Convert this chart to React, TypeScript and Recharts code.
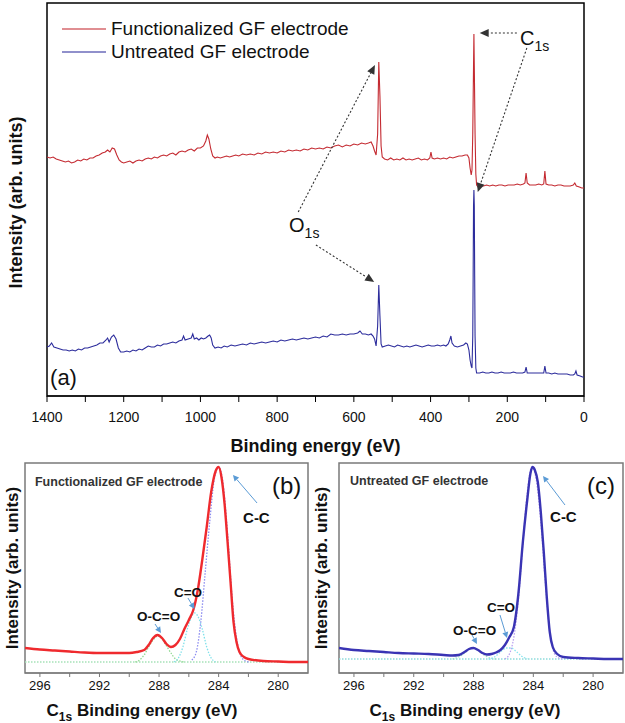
import React from 'react';
import { LineChart, Line, XAxis, YAxis, ReferenceArea, ReferenceLine, ReferenceDot, Legend } from 'recharts';

const FONT = '"Liberation Sans", Arial, Helvetica, sans-serif';

// ---------- Panel (a): survey spectra ----------
const surveyTicks = [1400, 1300, 1200, 1100, 1000, 900, 800, 700, 600, 500, 400, 300, 200, 100, 0];
const surveyLabeledTicks = [1400, 1200, 1000, 800, 600, 400, 200, 0];
const surveySeriesNames = ['Functionalized GF electrode', 'Untreated GF electrode'];

const functionalizedSurvey = [
  [1400, 239], [1392, 238], [1384, 239], [1376, 237], [1368, 236], [1360, 235], [1352, 234], [1344, 235],
  [1336, 233], [1328, 234], [1320, 236], [1312, 235], [1304, 237], [1296, 236], [1288, 238], [1280, 238],
  [1272, 240], [1264, 241], [1256, 243], [1248, 244], [1242, 246], [1236, 244], [1230, 248], [1224, 247],
  [1218, 241], [1212, 236], [1206, 234], [1200, 233], [1192, 234], [1184, 235], [1176, 233], [1168, 235],
  [1160, 236], [1152, 235], [1144, 237], [1136, 238], [1128, 237], [1120, 239], [1112, 238], [1104, 240],
  [1096, 241], [1088, 240], [1080, 242], [1072, 243], [1064, 241], [1056, 244], [1048, 245], [1040, 244],
  [1032, 246], [1024, 247], [1016, 245], [1008, 248], [1000, 248], [992, 250], [986, 255], [982, 261],
  [978, 257], [973, 247], [968, 240], [962, 238], [956, 239], [948, 238], [940, 239], [932, 240], [924, 239],
  [916, 240], [908, 241], [900, 240], [890, 242], [880, 241], [870, 242], [860, 241], [850, 243], [840, 242],
  [830, 244], [820, 243], [810, 244], [800, 243], [790, 245], [780, 244], [770, 246], [760, 245], [750, 246],
  [740, 245], [730, 247], [720, 246], [710, 248], [700, 247], [690, 248], [680, 247], [670, 249], [660, 248],
  [650, 250], [640, 251], [630, 249], [620, 251], [610, 250], [600, 252], [590, 251], [580, 253], [570, 252],
  [562, 253], [555, 254], [550, 250], [546, 245], [542, 241], [538, 262], [535, 334], [532, 300], [529, 250],
  [526, 239], [520, 237], [512, 236], [504, 238], [496, 236], [488, 237], [480, 236], [472, 238], [464, 236],
  [456, 237], [448, 236], [440, 237], [432, 238], [424, 236], [416, 237], [408, 236], [402, 238], [399, 244],
  [396, 238], [390, 237], [382, 238], [374, 237], [366, 238], [358, 237], [350, 239], [342, 238], [334, 239],
  [326, 240], [318, 240], [310, 241], [304, 241], [300, 238], [297, 228], [294, 221], [292, 226], [290, 262],
  [288, 330], [287, 362], [286, 330], [284, 262], [282, 222], [280, 211], [276, 209], [270, 210], [262, 210],
  [254, 211], [246, 210], [238, 211], [230, 210], [222, 211], [214, 211], [206, 210], [198, 211], [190, 211],
  [182, 211], [174, 212], [166, 211], [158, 212], [154, 213], [151, 223], [148, 213], [142, 211], [134, 211],
  [126, 211], [118, 212], [110, 211], [105, 212], [102, 225], [99, 212], [92, 211], [84, 211], [76, 210],
  [68, 211], [60, 211], [52, 210], [44, 210], [36, 210], [28, 211], [24, 213], [20, 210], [12, 209], [6, 208],
  [0, 208],
];

const untreatedSurvey = [
  [1400, 49], [1394, 50], [1388, 53], [1382, 49], [1374, 48], [1366, 47], [1358, 46], [1350, 46], [1342, 45],
  [1334, 46], [1326, 45], [1318, 47], [1310, 46], [1302, 48], [1294, 48], [1286, 49], [1278, 50], [1270, 51],
  [1262, 53], [1254, 53], [1246, 56], [1242, 58], [1238, 54], [1232, 59], [1226, 61], [1220, 57], [1214, 48],
  [1208, 44], [1200, 44], [1192, 45], [1184, 44], [1176, 46], [1168, 45], [1160, 47], [1152, 46], [1144, 48],
  [1136, 50], [1128, 49], [1120, 49], [1112, 51], [1104, 50], [1096, 52], [1088, 52], [1080, 53], [1072, 54],
  [1064, 53], [1056, 55], [1048, 56], [1044, 60], [1040, 56], [1032, 57], [1024, 58], [1020, 62], [1016, 57],
  [1010, 58], [1004, 56], [998, 58], [992, 57], [986, 58], [980, 60], [976, 61], [972, 58], [968, 51], [962, 48],
  [954, 49], [946, 48], [938, 50], [930, 49], [920, 51], [910, 50], [900, 51], [890, 52], [880, 51], [870, 53],
  [860, 52], [850, 53], [840, 54], [830, 53], [820, 54], [810, 55], [800, 54], [790, 56], [780, 55], [770, 56],
  [760, 57], [750, 56], [740, 57], [730, 58], [720, 57], [710, 58], [700, 59], [690, 58], [680, 60], [670, 59],
  [660, 62], [650, 61], [640, 61], [630, 62], [620, 61], [610, 62], [600, 62], [590, 63], [584, 65], [578, 62],
  [570, 62], [562, 61], [555, 62], [550, 60], [546, 57], [542, 50], [538, 70], [535, 111], [532, 80], [529, 52],
  [526, 49], [518, 50], [510, 51], [502, 50], [494, 49], [486, 51], [478, 50], [470, 49], [462, 50], [454, 49],
  [446, 50], [438, 51], [430, 50], [422, 49], [414, 50], [406, 51], [398, 50], [390, 50], [382, 51], [374, 50],
  [366, 51], [360, 50], [354, 52], [350, 56], [347, 60], [344, 53], [338, 50], [330, 49], [322, 50], [314, 51],
  [308, 53], [304, 52], [300, 46], [297, 36], [294, 30], [292, 28], [290, 60], [289, 120], [288, 190], [287, 206],
  [286, 190], [285, 120], [284, 60], [282, 28], [280, 23], [272, 23], [264, 24], [256, 23], [248, 23], [240, 24],
  [232, 23], [224, 23], [216, 24], [208, 23], [200, 23], [192, 23], [184, 24], [176, 23], [168, 23], [160, 23],
  [154, 24], [151, 29], [148, 23], [140, 23], [132, 23], [124, 23], [116, 23], [108, 23], [105, 23], [102, 30],
  [99, 23], [92, 23], [84, 22], [76, 23], [68, 22], [60, 22], [52, 22], [44, 22], [36, 21], [28, 21], [24, 22],
  [21, 25], [18, 21], [10, 20], [4, 19], [0, 19],
];

// ---------- Panels (b) and (c): C1s high resolution ----------
const c1sTicks = [296, 294, 292, 290, 288, 286, 284, 282, 280];
const c1sLabeledTicks = [296, 292, 288, 284, 280];

const functionalizedEnvelope = [
  [297, 14], [296, 12.5], [295, 11.5], [294, 10.5], [293, 9.5], [292, 9], [291, 9], [290, 9], [289.5, 10],
  [289.0, 12], [288.7, 17], [288.4, 24], [288.1, 27], [287.8, 24], [287.5, 18], [287.2, 15], [286.9, 17],
  [286.6, 23], [286.3, 33], [286.0, 42], [285.7, 52], [285.4, 72], [285.1, 102], [284.8, 135], [284.5, 170],
  [284.2, 191], [284.0, 195], [283.8, 184], [283.6, 158], [283.4, 120], [283.2, 80], [283.0, 40], [282.8, 20],
  [282.6, 10], [282.3, 5], [282.0, 3], [281.0, 1], [280.0, 0.5], [279.0, 0], [278.0, 0],
];
const functionalizedCC = [
  [285.8, 2], [285.5, 10], [285.2, 40], [284.9, 90], [284.6, 140], [284.3, 182], [284.0, 195], [283.7, 178],
  [283.4, 128], [283.1, 65], [282.8, 24], [282.5, 6], [282.2, 1], [281.9, 0],
];
const functionalizedCO = [
  [287.0, 0], [286.7, 4], [286.4, 15], [286.1, 33], [285.8, 46], [285.6, 49], [285.4, 46], [285.1, 33],
  [284.8, 15], [284.5, 4], [284.2, 0],
];
const functionalizedOCO = [
  [289.6, 0], [289.3, 2], [289.0, 7], [288.7, 15], [288.4, 22], [288.1, 26], [287.8, 23], [287.5, 16],
  [287.2, 9], [286.9, 3], [286.6, 1], [286.3, 0],
];
const functionalizedBackground = [[297, 0], [278, 0]];

const untreatedEnvelope = [
  [297, 14], [296, 12], [295, 11], [294, 10], [293, 9], [292, 8.5], [291, 8], [290, 7], [289.4, 6.5],
  [289.0, 7], [288.6, 10], [288.3, 13], [288.0, 14], [287.7, 12], [287.4, 9], [287.1, 7.5], [286.8, 8],
  [286.5, 9.5], [286.2, 12], [285.9, 17], [285.6, 25], [285.3, 35], [285.0, 68], [284.7, 120], [284.4, 163],
  [284.2, 188], [284.05, 195], [283.9, 192], [283.7, 180], [283.5, 150], [283.3, 110], [283.1, 65], [282.9, 30],
  [282.7, 15], [282.4, 8], [282.0, 5], [281.0, 4], [280.0, 3.5], [279.0, 3], [278.0, 3],
];
const untreatedCC = [
  [285.9, 3], [285.6, 8], [285.3, 25], [285.0, 62], [284.7, 118], [284.4, 170], [284.1, 195], [283.8, 182],
  [283.5, 140], [283.2, 80], [282.9, 30], [282.6, 9], [282.3, 4], [282.0, 3],
];
const untreatedCO = [
  [287.0, 3], [286.6, 5], [286.2, 10], [285.8, 14], [285.5, 14], [285.1, 10], [284.8, 6], [284.4, 3],
];
const untreatedOCO = [
  [289.4, 3], [289.0, 5], [288.6, 9], [288.3, 13], [288.0, 14], [287.7, 12], [287.3, 7], [286.9, 4], [286.5, 3],
];
const untreatedBackground = [[297, 3], [278, 3]];

type Pt = { e: number; v: number };
const toPts = (rows: number[][]): Pt[] => rows.map(([e, v]) => ({ e, v }));

// ---------- helpers ----------
const arrowShape = (color: string, dash: string | undefined, len: number, half: number, width: number) =>
  (p: any) => {
    const { x1, y1, x2, y2 } = p;
    if (![x1, y1, x2, y2].every((v) => typeof v === 'number' && isFinite(v))) return <g />;
    const dx = x2 - x1;
    const dy = y2 - y1;
    const L = Math.hypot(dx, dy) || 1;
    const ux = dx / L;
    const uy = dy / L;
    const bx = x2 - ux * len;
    const by = y2 - uy * len;
    const pts = `${x2},${y2} ${bx - uy * half},${by + ux * half} ${bx + uy * half},${by - ux * half}`;
    return (
      <g>
        <line x1={x1} y1={y1} x2={bx} y2={by} stroke={color} strokeWidth={width} strokeDasharray={dash} />
        <polygon points={pts} fill={color} />
      </g>
    );
  };

const textShape = (content: React.ReactNode, props: any) => (p: any) => (
  <text x={p.cx} y={p.cy} fontFamily={FONT} {...props}>
    {content}
  </text>
);

const SurveyLegend = (props: any) => {
  const payload = props.payload || [];
  return (
    <div style={{ fontFamily: FONT, fontSize: 19, color: '#111' }}>
      {payload.map((p: any) => (
        <div key={p.value} style={{ display: 'flex', alignItems: 'center', height: 23 }}>
          <svg width={44} height={6} style={{ display: 'block' }}>
            <line x1={0} y1={3} x2={44} y2={3} stroke={p.color} strokeWidth={1.6} strokeOpacity={0.7} />
          </svg>
          <span style={{ marginLeft: 5, whiteSpace: 'nowrap' }}>{p.value}</span>
        </div>
      ))}
    </div>
  );
};

function SurveyPanel() {
  const red = '#c42a31';
  const blue = '#2c2c9c';
  const dotted = arrowShape('#333', '2 2', 9, 4, 1.1);
  return (
    <LineChart width={625} height={460} margin={{ top: 3, right: 41, bottom: 4, left: 0 }}>
      <XAxis
        dataKey="e"
        type="number"
        domain={[0, 1400]}
        reversed
        allowDataOverflow
        ticks={surveyTicks}
        interval={0}
        tickFormatter={(v: number) => (surveyLabeledTicks.includes(v) ? String(v) : '')}
        tick={{ fontSize: 14, fill: '#111' }}
        tickSize={6}
        tickMargin={10}
        height={60}
        stroke="#000"
        label={(lp: any) => {
          const vb = lp.viewBox || { x: 47, y: 396, width: 537, height: 60 };
          return (
            <text x={vb.x + vb.width / 2} y={vb.y + 50} dy="0.36em" textAnchor="middle" fontFamily={FONT} fontSize={18} fontWeight="bold" fill="#111">
              Binding energy (eV)
            </text>
          );
        }}
      />
      <YAxis
        type="number"
        domain={[0, 393]}
        allowDataOverflow
        tick={false}
        axisLine={false}
        tickLine={false}
        width={47}
        label={(lp: any) => {
          const vb = lp.viewBox || { x: 0, y: 3, width: 47, height: 393 };
          const cx = 16;
          const cy = vb.y + vb.height / 2 + 3;
          return (
            <text x={cx} y={cy} dy="0.36em" textAnchor="middle" transform={`rotate(-90, ${cx}, ${cy})`} fontFamily={FONT} fontSize={18} fontWeight="bold" fill="#111">
              Intensity (arb. units)
            </text>
          );
        }}
      />
      <ReferenceArea x1={1400} x2={0} y1={0} y2={393} fill="none" fillOpacity={0} stroke="#000" strokeWidth={1.5} />
      <Legend layout="horizontal" verticalAlign="middle" align="center" content={SurveyLegend} wrapperStyle={{ left: 62, top: 17, width: 'auto' }} />
      <Line data={toPts(functionalizedSurvey)} dataKey="v" name={surveySeriesNames[0]} stroke={red} strokeWidth={1.1} dot={false} isAnimationActive={false} type="linear" />
      <Line data={toPts(untreatedSurvey)} dataKey="v" name={surveySeriesNames[1]} stroke={blue} strokeWidth={1.1} dot={false} isAnimationActive={false} type="linear" />
      <ReferenceLine segment={[{ x: 745, y: 184 }, { x: 545, y: 331 }]} shape={dotted} />
      <ReferenceLine segment={[{ x: 699, y: 151 }, { x: 547, y: 114 }]} shape={dotted} />
      <ReferenceLine segment={[{ x: 175, y: 363 }, { x: 272, y: 363 }]} shape={dotted} />
      <ReferenceLine segment={[{ x: 149, y: 348 }, { x: 277, y: 204 }]} shape={dotted} />
      <ReferenceDot x={769} y={164} r={0} shape={textShape(
        [<tspan key="m">O</tspan>, <tspan key="s" fontSize={14} dy={6}>1s</tspan>],
        { fontSize: 20, fill: '#111' },
      )} />
      <ReferenceDot x={167} y={351} r={0} shape={textShape(
        [<tspan key="m">C</tspan>, <tspan key="s" fontSize={14} dy={6}>1s</tspan>],
        { fontSize: 20, fill: '#111' },
      )} />
      <ReferenceDot x={1392} y={18} r={0} shape={textShape('(a)', { fontSize: 22, fill: '#111', dy: '0.33em' })} />
    </LineChart>
  );
}

type Note = { x: number; y: number };
type PanelProps = {
  yAxisWidth: number;
  rightMargin: number;
  envelope: number[][];
  envColor: string;
  comps: { rows: number[][]; color: string }[];
  background: number[][];
  bgColor: string;
  title: string;
  tag: string;
  labelX: number;
  yLabelX: number;
  titlePos: Note;
  tagPos: Note;
  cc: Note; ccFrom: Note; ccTo: Note;
  co: Note; coFrom: Note; coTo: Note;
  oco: Note; ocoFrom: Note; ocoTo: Note;
};

function C1sPanel(props: PanelProps) {
  const blueArrow = arrowShape('#5b9bd5', undefined, 6, 3, 1);
  const noteStyle = { fontSize: 13.5, fontWeight: 'bold', fill: '#111', dy: '0.36em' };
  return (
    <LineChart width={315} height={268} margin={{ top: 8, right: props.rightMargin, bottom: 5, left: 0 }}>
      <XAxis
        dataKey="e"
        type="number"
        domain={[278, 297]}
        reversed
        allowDataOverflow
        ticks={c1sTicks}
        interval={0}
        tickFormatter={(v: number) => (c1sLabeledTicks.includes(v) ? String(v) : '')}
        tick={{ fontSize: 13, fill: '#111' }}
        tickSize={4}
        tickMargin={4}
        height={45}
        stroke="#777"
        label={(lp: any) => {
          const vb = lp.viewBox || { x: 0, y: 218, width: 0, height: 45 };
          return (
            <text x={props.labelX} y={vb.y + 37} dy="0.36em" textAnchor="middle" fontFamily={FONT} fontSize={17} fontWeight="bold" fill="#111">
              C<tspan fontSize={12} dy={5}>1s</tspan><tspan dy={-5}> Binding energy (eV)</tspan>
            </text>
          );
        }}
      />
      <YAxis
        type="number"
        domain={[-11, 199]}
        allowDataOverflow
        tick={false}
        axisLine={false}
        tickLine={false}
        width={props.yAxisWidth}
        label={(lp: any) => {
          const vb = lp.viewBox || { x: 0, y: 8, width: 25, height: 210 };
          const cx = props.yLabelX;
          const cy = vb.y + vb.height / 2;
          return (
            <text x={cx} y={cy} dy="0.36em" textAnchor="middle" transform={`rotate(-90, ${cx}, ${cy})`} fontFamily={FONT} fontSize={17} fontWeight="bold" fill="#111">
              Intensity (arb. units)
            </text>
          );
        }}
      />
      <ReferenceArea x1={297} x2={278} y1={-11} y2={199} fill="none" fillOpacity={0} stroke="#7a7a7a" strokeWidth={1.5} />
      <Line data={toPts(props.background)} dataKey="v" stroke={props.bgColor} strokeWidth={1.3} strokeDasharray="1.5 1.5" dot={false} isAnimationActive={false} type="linear" />
      {props.comps.map((c, i) => (
        <Line key={i} data={toPts(c.rows)} dataKey="v" stroke={c.color} strokeWidth={1.3} strokeDasharray="1.5 1.5" dot={false} isAnimationActive={false} type="monotone" />
      ))}
      <Line data={toPts(props.envelope)} dataKey="v" stroke={props.envColor} strokeWidth={2.4} dot={false} isAnimationActive={false} type="monotone" />
      <ReferenceDot x={props.titlePos.x} y={props.titlePos.y} r={0} shape={textShape(props.title, { fontSize: 12.5, fontWeight: 'bold', fill: '#333', dy: '0.36em' })} />
      <ReferenceDot x={props.tagPos.x} y={props.tagPos.y} r={0} shape={textShape(props.tag, { fontSize: 24, fill: '#111', dy: '0.33em' })} />
      <ReferenceDot x={props.cc.x} y={props.cc.y} r={0} shape={textShape('C-C', { ...noteStyle, fontSize: 15 })} />
      <ReferenceDot x={props.co.x} y={props.co.y} r={0} shape={textShape('C=O', noteStyle)} />
      <ReferenceDot x={props.oco.x} y={props.oco.y} r={0} shape={textShape('O-C=O', noteStyle)} />
      <ReferenceLine segment={[props.ccFrom, props.ccTo]} shape={blueArrow} />
      <ReferenceLine segment={[props.coFrom, props.coTo]} shape={blueArrow} />
      <ReferenceLine segment={[props.ocoFrom, props.ocoTo]} shape={blueArrow} />
    </LineChart>
  );
}

export default function App() {
  return (
    <div style={{ position: 'absolute', left: 0, top: 0, width: 625, height: 723, background: '#fff', fontFamily: FONT }}>
      <div style={{ position: 'absolute', left: 0, top: 0 }}>
        <SurveyPanel />
      </div>
      <div style={{ position: 'absolute', left: 0, top: 455 }}>
        <C1sPanel
          yAxisWidth={25}
          rightMargin={7}
          envelope={functionalizedEnvelope}
          envColor="#ef2a2e"
          comps={[
            { rows: functionalizedOCO, color: '#8fd88f' },
            { rows: functionalizedCO, color: '#7fe0ea' },
            { rows: functionalizedCC, color: '#8c8cf0' },
          ]}
          background={functionalizedBackground}
          bgColor="#a6e2b8"
          title="Functionalized GF electrode"
          tag="(b)"
          labelX={142}
          yLabelX={12}
          titlePos={{ x: 296.33, y: 181 }}
          tagPos={{ x: 280.42, y: 176 }}
          cc={{ x: 282.36, y: 144 }} ccFrom={{ x: 281.42, y: 159 }} ccTo={{ x: 283.04, y: 187 }}
          co={{ x: 287.0, y: 70 }} coFrom={{ x: 286.06, y: 64 }} coTo={{ x: 285.62, y: 53 }}
          oco={{ x: 289.48, y: 46 }} ocoFrom={{ x: 288.27, y: 38 }} ocoTo={{ x: 287.87, y: 29 }}
        />
      </div>
      <div style={{ position: 'absolute', left: 310, top: 455 }}>
        <C1sPanel
          yAxisWidth={29}
          rightMargin={2}
          envelope={untreatedEnvelope}
          envColor="#3a34b4"
          comps={[
            { rows: untreatedOCO, color: '#9ddfc4' },
            { rows: untreatedCO, color: '#86e4ee' },
            { rows: untreatedCC, color: '#baa0f0' },
          ]}
          background={untreatedBackground}
          bgColor="#8fdcdc"
          title="Untreated GF electrode"
          tag="(c)"
          labelX={155}
          yLabelX={11}
          titlePos={{ x: 296.26, y: 182 }}
          tagPos={{ x: 280.41, y: 176 }}
          cc={{ x: 282.88, y: 145 }} ccFrom={{ x: 281.88, y: 157 }} ccTo={{ x: 283.35, y: 186 }}
          co={{ x: 287.1, y: 55 }} coFrom={{ x: 286.23, y: 47 }} coTo={{ x: 285.76, y: 24 }}
          oco={{ x: 289.37, y: 32 }} ocoFrom={{ x: 288.1, y: 27 }} ocoTo={{ x: 287.77, y: 18 }}
        />
      </div>
    </div>
  );
}
